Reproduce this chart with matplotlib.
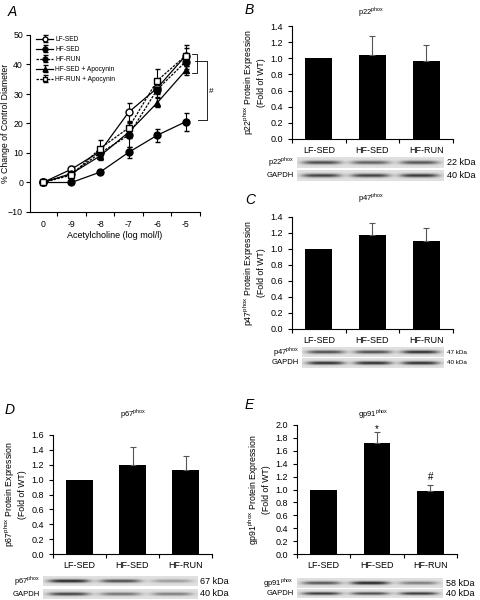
import numpy as np
import matplotlib
matplotlib.use('Agg')
import matplotlib.pyplot as plt

plt.rcParams['font.family'] = ['Liberation Sans', 'DejaVu Sans']
plt.rcParams['mathtext.fontset'] = 'custom'
plt.rcParams['mathtext.rm'] = 'Liberation Sans'
plt.rcParams['axes.linewidth'] = 0.8

# panel A - dose response
conc_labels = ['0', '-9', '-8', '-7', '-6', '-5']
lf_sed = [0, 4.5, 10.5, 23.8, 32, 43]
lf_sed_err = [0.5, 1, 1.5, 3, 2, 2.5]
hf_sed = [0, 0, 3.5, 10.2, 16, 20.6]
hf_sed_err = [0.3, 0.5, 0.7, 2, 2.3, 3]
hf_run = [0, 3, 10, 16, 31.5, 41]
hf_run_err = [0.3, 1, 2, 4, 2.5, 2.5]
hf_sed_apo = [0, 3, 9, 17, 27, 38]
hf_sed_apo_err = [0.3, 0.8, 1.5, 2, 1.5, 1.5]
hf_run_apo = [0, 2.5, 11.5, 18.5, 34.5, 43]
hf_run_apo_err = [0.3, 1, 3, 2, 4, 3.5]

# panels B-E - protein expression
groups = ['LF-SED', 'HF-SED', 'HF-RUN']
p22 = [1.0, 1.04, 0.97]
p22_err = [0, 0.23, 0.19]
p47 = [1.0, 1.18, 1.10]
p47_err = [0, 0.15, 0.16]
p67 = [1.0, 1.20, 1.13]
p67_err = [0, 0.24, 0.19]
gp91 = [1.0, 1.72, 0.97]
gp91_err = [0, 0.17, 0.10]
gp91_marks = [(1, '*', 1.93), (2, '#', 1.19)]

# blot band darkness per lane
p22_band = [0.75, 0.65, 0.7]
p22_gapdh = [0.8, 0.8, 0.85]
p47_band = [0.75, 0.75, 0.9]
p47_gapdh = [0.9, 0.9, 0.9]
p67_band = [0.95, 0.75, 0.35]
p67_gapdh = [0.8, 0.55, 0.5]
gp91_band = [0.7, 0.95, 0.5]
gp91_gapdh = [0.85, 0.75, 0.85]

W, H = 480, 600
fig = plt.figure(figsize=(4.8, 6), dpi=100)


def px(x0, y0, x1, y1):
    return [x0 / W, 1 - y1 / H, (x1 - x0) / W, (y1 - y0) / H]


def ftext(x, y, s, **kw):
    fig.text(x / W, 1 - y / H, s, **kw)


# ---- A ----
ax = fig.add_axes(px(30, 35, 200, 212))
xs = np.arange(len(conc_labels))
series = [
    (lf_sed, lf_sed_err, 'o', 'white', '-', 'LF-SED'),
    (hf_sed, hf_sed_err, 'o', 'black', '-', 'HF-SED'),
    (hf_run, hf_run_err, 'o', 'black', '--', 'HF-RUN'),
    (hf_sed_apo, hf_sed_apo_err, '^', 'black', '-', 'HF-SED + Apocynin'),
    (hf_run_apo, hf_run_apo_err, 's', 'white', '--', 'HF-RUN + Apocynin'),
]
for vals, err, m, fc, ls, lab in series:
    ax.errorbar(xs, vals, yerr=err, color='black', marker=m, mfc=fc, mec='black',
                ms=5, lw=0.9, ls=ls, dashes=(2, 1) if ls == '--' else (None, None),
                elinewidth=0.8, capsize=1.8, label=lab)
ax.set_xlim(-0.45, 5.4)
ax.set_ylim(-10, 50)
ax.set_yticks(range(-10, 51, 10))
ax.set_xticks(xs)
ax.set_xticklabels(conc_labels)
ax.set_xticks(xs + 0.5, minor=True)
ax.tick_params(axis='x', which='major', length=0, pad=6)
ax.tick_params(axis='x', which='minor', length=3, width=0.8)
ax.tick_params(axis='y', length=3, width=0.8, pad=2)
ax.tick_params(labelsize=6.3)
ax.spines['top'].set_visible(False)
ax.spines['right'].set_visible(False)
ax.set_xlabel('Acetylcholine (log mol/l)', fontsize=6.5, labelpad=1)
ftext(6, 123, '% Change of Control Diameter', fontsize=6.3, rotation=90,
      ha='center', va='center')
ax.legend(loc='upper left', bbox_to_anchor=(0.02, 1.01), fontsize=4.8, frameon=False,
          handlelength=2.6, handletextpad=0.3, labelspacing=0.45, borderaxespad=0,
          markerscale=0.7)
# significance brackets
ax.plot([5.22, 5.41, 5.41, 5.22], [43.5, 43.5, 37, 37], color='black', lw=0.6, clip_on=False)
ax.plot([5.34, 5.76, 5.76, 5.42], [41.2, 41.2, 21.1, 21.1], color='black', lw=0.6, clip_on=False)
ax.text(5.9, 31, '#', fontsize=6, ha='center', va='center')
ftext(8, 12, 'A', fontsize=10, style='italic', va='center', ha='left')


def bar_panel(rect, vals, err, ymax, title, tpos, letter, lpos, gene, marks=None):
    ax = fig.add_axes(px(*rect))
    x = np.arange(len(groups))
    ax.bar(x, vals, width=0.5, color='black')
    ax.errorbar(x[1:], vals[1:], yerr=[np.zeros(2), err[1:]], fmt='none',
                ecolor='#555555', elinewidth=0.8, capsize=2, capthick=0.8)
    ax.set_xlim(-0.5, 2.5)
    ax.set_ylim(0, ymax)
    ax.set_yticks(np.arange(0, ymax + 0.01, 0.2))
    ax.set_yticklabels(['%.1f' % v for v in np.arange(0, ymax + 0.01, 0.2)])
    ax.set_xticks(x)
    ax.set_xticklabels(groups)
    ax.set_xticks([-0.5, 0.5, 1.5, 2.5], minor=True)
    ax.tick_params(axis='x', which='major', length=0, pad=5)
    ax.tick_params(axis='x', which='minor', length=3, width=0.8)
    ax.tick_params(axis='y', length=3, width=0.8)
    ax.tick_params(labelsize=6.5)
    ax.spines['top'].set_visible(False)
    ax.spines['right'].set_visible(False)
    ax.set_ylabel(gene + ' Protein Expression\n(Fold of WT)', fontsize=6.3,
                  linespacing=1.1, labelpad=3)
    if marks:
        for xi, s, yv in marks:
            ax.text(xi, yv, s, ha='center', va='center', fontsize=7)
    ftext(tpos[0], tpos[1], title, fontsize=5.5, ha='center', va='center')
    ftext(lpos[0], lpos[1], letter, fontsize=10, style='italic', va='center', ha='left')
    return ax


def blot(rect, dark, label, kda, kfs=6.5):
    ax = fig.add_axes(px(*rect))
    xg = np.linspace(0, 3, 300)
    yg = np.linspace(-1, 1, 30)
    img = np.full((30, 300), 0.88)
    for i, d in enumerate(dark):
        lane = np.exp(-((xg - (i + 0.5)) / 0.4) ** 4)
        band = np.exp(-(yg / 0.35) ** 2)
        img -= d * 0.78 * np.outer(band, lane)
    ax.imshow(img, cmap='gray', vmin=0, vmax=1, aspect='auto', extent=[0, 3, -1, 1])
    ax.axis('off')
    yc = (rect[1] + rect[3]) / 2
    ftext(rect[0] - 3, yc, label, fontsize=5.5, ha='right', va='center')
    ftext(rect[2] + 3, yc, kda, fontsize=kfs, ha='left', va='center')


# ---- B ----
bar_panel((292, 26, 453, 139), p22, p22_err, 1.4, r'p22$^{\rm phox}$', (371, 12),
          'B', (245, 10), r'p22$^{\rm phox}$')
blot((297, 157, 444, 168), p22_band, r'p22$^{\rm phox}$', '22 kDa')
blot((297, 170, 444, 181), p22_gapdh, 'GAPDH', '40 kDa')

# ---- C ----
bar_panel((292, 217, 453, 329), p47, p47_err, 1.4, r'p47$^{\rm phox}$', (371, 198),
          'C', (245, 200), r'p47$^{\rm phox}$')
blot((302, 347, 444, 357), p47_band, r'p47$^{\rm phox}$', '47 kDa', 4.5)
blot((302, 358, 444, 368), p47_gapdh, 'GAPDH', '40 kDa', 4.5)

# ---- D ----
bar_panel((53, 435, 212, 554), p67, p67_err, 1.6, r'p67$^{\rm phox}$', (133, 414),
          'D', (5, 410), r'p67$^{\rm phox}$')
blot((43, 576, 197, 586), p67_band, r'p67$^{\rm phox}$', '67 kDa')
blot((43, 589, 197, 599), p67_gapdh, 'GAPDH', '40 kDa')

# ---- E ----
bar_panel((297, 425, 457, 554), gp91, gp91_err, 2.0, r'gp91$^{\rm phox}$', (373, 414),
          'E', (245, 405), r'gp91$^{\rm phox}$', marks=gp91_marks)
blot((297, 578, 443, 588), gp91_band, r'gp91$^{\rm phox}$', '58 kDa')
blot((297, 589, 443, 598), gp91_gapdh, 'GAPDH', '40 kDa')

fig.savefig('out.png', dpi=100)
